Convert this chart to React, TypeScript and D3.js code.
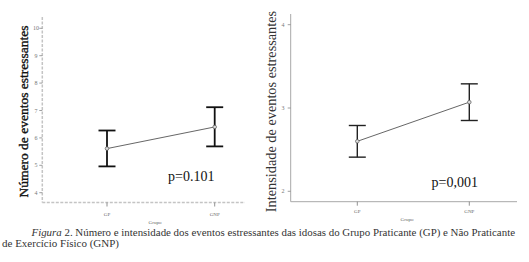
import React from "react";
import * as d3 from "d3";

const categories = ["GP", "GNP"];

// Chart 1: Número de eventos estressantes
const numMeans = [5.61, 6.4];
const numLow = [4.96, 5.69];
const numHigh = [6.27, 7.12];
const numTicks = [4, 5, 6, 7, 8, 9, 10];
const numTickLabels = ["4", "5", "6", "7", "8", "9", "10"];

// Chart 2: Intensidade de eventos estressantes
const intMeans = [2.6, 3.07];
const intLow = [2.41, 2.85];
const intHigh = [2.79, 3.29];
const intTicks = [2, 3, 4];
const intTickLabels = ["2", "3", "4"];

const xTitle = "Grupo";
const caption1Italic = "Figura";
const caption1Rest = " 2. Número e intensidade dos eventos estressantes das idosas do Grupo Praticante (GP) e Não Praticante";
const caption2 = "de Exercício Físico (GNP)";

type PanelProps = {
  means: number[];
  low: number[];
  high: number[];
  ticks: number[];
  tickLabels: string[];
  domain: [number, number];
  yRange: [number, number];
  xPos: [number, number];
  axisX: [number, number];
  axisTop: number;
  axisY: number;
  dashed: boolean;
  barColor: string;
  barWidth: number;
  title: string;
  titleX: number;
  titleY: number;
  titleSize: number;
  titleColor: string;
  titleStroke: number;
  pText: string;
  pX: number;
  pY: number;
  tickLabelX: number;
  catLabelY: number;
  grupoX: number;
  grupoY: number;
};

function Panel(p: PanelProps) {
  const y = d3.scaleLinear().domain(p.domain).range(p.yRange);
  const x = d3.scalePoint<string>().domain(categories).range(p.xPos);
  const axisColor = p.dashed ? "#c4c4c4" : "#a8a8a8";
  const dash = p.dashed ? "3,1.5" : undefined;
  const line = d3
    .line<number>()
    .x((_, i) => x(categories[i]) as number)
    .y((d) => y(d));
  const cap = 8.5;
  return (
    <g>
      <line x1={p.axisX[0]} x2={p.axisX[0]} y1={p.axisTop} y2={p.axisY} stroke={axisColor} strokeWidth={p.dashed ? 1.5 : 1} strokeDasharray={dash} />
      <line x1={p.axisX[0]} x2={p.axisX[1]} y1={p.axisY} y2={p.axisY} stroke={axisColor} strokeWidth={p.dashed ? 1.5 : 1} strokeDasharray={dash} />
      {p.ticks.map((t, i) => (
        <g key={t}>
          <line x1={p.axisX[0] - 3} x2={p.axisX[0]} y1={y(t)} y2={y(t)} stroke="#888" strokeWidth={0.8} />
          <text x={p.tickLabelX} y={y(t)} dy="0.35em" textAnchor="middle" fontSize={6} fill="#777" fontFamily="Liberation Serif">
            {p.tickLabels[i]}
          </text>
        </g>
      ))}
      {categories.map((c) => (
        <g key={c}>
          <line x1={x(c)} x2={x(c)} y1={p.axisY} y2={p.axisY + 4} stroke="#777" strokeWidth={0.8} />
          <text x={x(c)} y={p.catLabelY} dy="0.35em" textAnchor="middle" fontSize={5} fill="#666" fontFamily="Liberation Serif">
            {c}
          </text>
        </g>
      ))}
      <text x={p.grupoX} y={p.grupoY} dy="0.35em" textAnchor="middle" fontSize={5} fill="#666" fontFamily="Liberation Serif">
        {xTitle}
      </text>
      <path d={line(p.means) || ""} fill="none" stroke="#555" strokeWidth={0.9} />
      {categories.map((c, i) => {
        const cx = x(c) as number;
        return (
          <g key={"eb" + c} stroke={p.barColor} strokeWidth={p.barWidth}>
            <line x1={cx} x2={cx} y1={y(p.low[i])} y2={y(p.high[i])} />
            <line x1={cx - cap} x2={cx + cap} y1={y(p.high[i])} y2={y(p.high[i])} />
            <line x1={cx - cap} x2={cx + cap} y1={y(p.low[i])} y2={y(p.low[i])} />
          </g>
        );
      })}
      {categories.map((c, i) => (
        <circle key={"m" + c} cx={x(c) as number} cy={y(p.means[i])} r={1.8} fill="#ddd" stroke="#555" strokeWidth={0.7} />
      ))}
      <text
        transform={`translate(${p.titleX},${p.titleY}) rotate(-90)`}
        textAnchor="middle"
        dominantBaseline="central"
        fontSize={p.titleSize}
        fill={p.titleColor}
        stroke={p.titleStroke > 0 ? p.titleColor : "none"}
        strokeWidth={p.titleStroke}
        fontFamily="Liberation Serif"
      >
        {p.title}
      </text>
      <text x={p.pX} y={p.pY} fontSize={14} fill="#111" fontFamily="Liberation Serif">
        {p.pText}
      </text>
    </g>
  );
}

export default function App() {
  return (
    <svg
      width={529}
      height={262}
      style={{ position: "absolute", left: 0, top: 0, background: "#fff" }}
    >
      <rect width={529} height={262} fill="#fff" />
      <Panel
        means={numMeans}
        low={numLow}
        high={numHigh}
        ticks={numTicks}
        tickLabels={numTickLabels}
        domain={[4, 10]}
        yRange={[192.7, 28.3]}
        xPos={[107, 214.7]}
        axisX={[42.3, 245]}
        axisTop={17}
        axisY={202.5}
        dashed={true}
        barColor="#111"
        barWidth={1.8}
        title="Número de eventos estressantes"
        titleX={23}
        titleY={111.5}
        titleSize={13.5}
        titleColor="#111"
        titleStroke={0.35}
        pText="p=0.101"
        pX={168}
        pY={181}
        tickLabelX={36}
        catLabelY={214}
        grupoX={155}
        grupoY={222}
      />
      <Panel
        means={intMeans}
        low={intLow}
        high={intHigh}
        ticks={intTicks}
        tickLabels={intTickLabels}
        domain={[2, 4]}
        yRange={[191.3, 24.7]}
        xPos={[357.3, 469.3]}
        axisX={[290.7, 517]}
        axisTop={14}
        axisY={201.7}
        dashed={false}
        barColor="#222"
        barWidth={1.4}
        title="Intensidade de eventos estressantes"
        titleX={271}
        titleY={111.5}
        titleSize={14.3}
        titleColor="#333"
        titleStroke={0}
        pText="p=0,001"
        pX={431.5}
        pY={187}
        tickLabelX={283}
        catLabelY={211}
        grupoX={407}
        grupoY={219}
      />
      <text x={31.5} y={235.5} fontSize={10.5} fill="#333" fontFamily="Liberation Serif" textLength={483.5} lengthAdjust="spacingAndGlyphs">
        <tspan fontStyle="italic">{caption1Italic}</tspan>
        <tspan>{caption1Rest}</tspan>
      </text>
      <text x={2} y={247} fontSize={10.5} fill="#333" fontFamily="Liberation Serif" textLength={117} lengthAdjust="spacingAndGlyphs">
        {caption2}
      </text>
    </svg>
  );
}
